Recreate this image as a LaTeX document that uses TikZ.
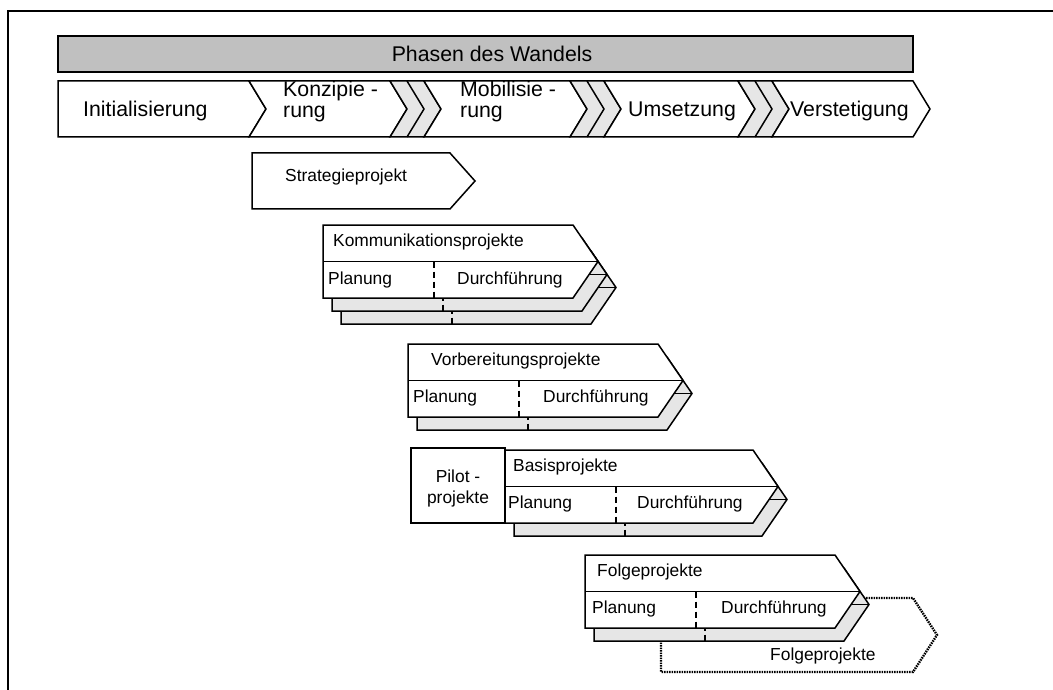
\documentclass[tikz,border=0pt]{standalone}
\usepackage{fontspec}
\setmainfont{Liberation Sans}
\usepackage{xcolor}
\usetikzlibrary{calc}
\definecolor{barGray}{HTML}{C0C0C0}
\definecolor{shadeGray}{HTML}{E6E6E6}
\tikzset{
  outline/.style  = {draw=black, line width=1.5pt},
  phasefont/.style = {font=\fontsize{21.3}{21}\selectfont},
  projfont/.style  = {font=\fontsize{17.4}{20.5}\selectfont},
  lbl/.style      = {inner sep=0pt, anchor=base west},
  divdash/.style  = {line width=2.4pt, dash pattern=on 6pt off 4pt},
  dotline/.style  = {line width=2.4pt, dash pattern=on 1.5pt off 1pt}
}
% project chevron: #1 left, #2 top, #3 body width, #4 fill
\newcommand{\projshape}[4]{%
  \filldraw[outline, fill=#4] (#1,#2) -- ++(#3,0) -- ++(25,36.5)
    -- ++(-25,36.5) -- ++(-#3,0) -- cycle;
  \draw[outline] (#1,#2+36.5) -- ++(#3+25,0);
  \draw[divdash] (#1+111,#2+36.5) -- ++(0,36.5);
}

\begin{document}
\begin{tikzpicture}[x=1pt, y=-1pt]

\useasboundingbox (0,0) rectangle (1053,690);

%% ── Frame ────────────────────────────────────────────
\draw[line width=2pt] (1053,11) -- (8,11) -- (8,690);

%% ── Row 1: Phasen des Wandels ───────────────────────
\filldraw[outline, fill=barGray] (58,36) rectangle (913,72);
\node[phasefont, inner sep=0pt] (title) at (492,54) {Phasen des Wandels};

%% ── Row 2: phases ───────────────────────────────────
\filldraw[outline, fill=white] (58,81) -- (249,81) -- (266,109)
  -- (249,137) -- (58,137) -- cycle;
\filldraw[outline, fill=white] (249,81) -- (390,81) -- (407,109)
  -- (390,137) -- (249,137) -- (266,109) -- cycle;
\filldraw[outline, fill=shadeGray] (390,81) -- (424,81) -- (441,109)
  -- (424,137) -- (390,137) -- (407,109) -- cycle;
\draw[outline] (407,81) -- (424,109) -- (407,137);
\filldraw[outline, fill=white] (424,81) -- (570,81) -- (587,109)
  -- (570,137) -- (424,137) -- (441,109) -- cycle;
\filldraw[outline, fill=shadeGray] (570,81) -- (604,81) -- (621,109)
  -- (604,137) -- (570,137) -- (587,109) -- cycle;
\draw[outline] (587,81) -- (604,109) -- (587,137);
\filldraw[outline, fill=white] (604,81) -- (738,81) -- (755,109)
  -- (738,137) -- (604,137) -- (621,109) -- cycle;
\filldraw[outline, fill=shadeGray] (738,81) -- (772,81) -- (789,109)
  -- (772,137) -- (738,137) -- (755,109) -- cycle;
\draw[outline] (755,81) -- (772,109) -- (755,137);
\filldraw[outline, fill=white] (772,81) -- (913,81) -- (930,109)
  -- (913,137) -- (772,137) -- (789,109) -- cycle;

\node[phasefont, lbl] (init) at (83,117) {Initialisierung};
\node[phasefont, lbl, align=left] (konz) at (283,118) {Konzipie -\\rung};
\node[phasefont, lbl, align=left] (mobi) at (460,118) {Mobilisie -\\rung};
\node[phasefont, lbl] (ums) at (628,117) {Umsetzung};
\node[phasefont, lbl] (verst) at (790,117) {Verstetigung};

%% ── Strategieprojekt ────────────────────────────────
\filldraw[outline, fill=white] (252,153) -- (450,153) -- (475,181)
  -- (450,209) -- (252,209) -- cycle;
\node[projfont, lbl] (strat) at (285,182) {Strategieprojekt};

%% ── Kommunikationsprojekte ──────────────────────────
\projshape{341}{251}{250}{shadeGray}
\projshape{332}{238}{250}{shadeGray}
\projshape{323}{225}{250}{white}
\node[projfont, lbl] (komm) at (333,246) {Kommunikationsprojekte};
\node[projfont, lbl] (kommP) at (328,284) {Planung};
\node[projfont, lbl] (kommD) at (457,284) {Durchführung};

%% ── Vorbereitungsprojekte ───────────────────────────
\projshape{417}{357}{250}{shadeGray}
\projshape{408}{344}{250}{white}
\node[projfont, lbl] (vorb) at (431,365) {Vorbereitungsprojekte};
\node[projfont, lbl] (vorbP) at (413,402) {Planung};
\node[projfont, lbl] (vorbD) at (543,402) {Durchführung};

%% ── Pilot- und Basisprojekte ────────────────────────
\filldraw[outline, fill=white] (411,448) rectangle (505,523);
\node[projfont, inner sep=0pt, anchor=base, align=center] (pilot)
  at (458,503) {Pilot -\\projekte};
\projshape{514}{463}{248}{shadeGray}
\projshape{505}{450}{248}{white}
\node[projfont, lbl] (basis) at (513,471) {Basisprojekte};
\node[projfont, lbl] (basisP) at (508,508) {Planung};
\node[projfont, lbl] (basisD) at (637,508) {Durchführung};

%% ── Folgeprojekte ───────────────────────────────────
\filldraw[dotline, fill=white] (661,598) -- (913,598) -- (937,635)
  -- (913,672) -- (661,672) -- cycle;
\node[projfont, lbl] (folge2) at (770,660) {Folgeprojekte};
\projshape{594}{568}{250}{shadeGray}
\projshape{585}{555}{250}{white}
\node[projfont, lbl] (folge) at (597,576) {Folgeprojekte};
\node[projfont, lbl] (folgeP) at (592,613) {Planung};
\node[projfont, lbl] (folgeD) at (721,613) {Durchführung};

\end{tikzpicture}
\end{document}
